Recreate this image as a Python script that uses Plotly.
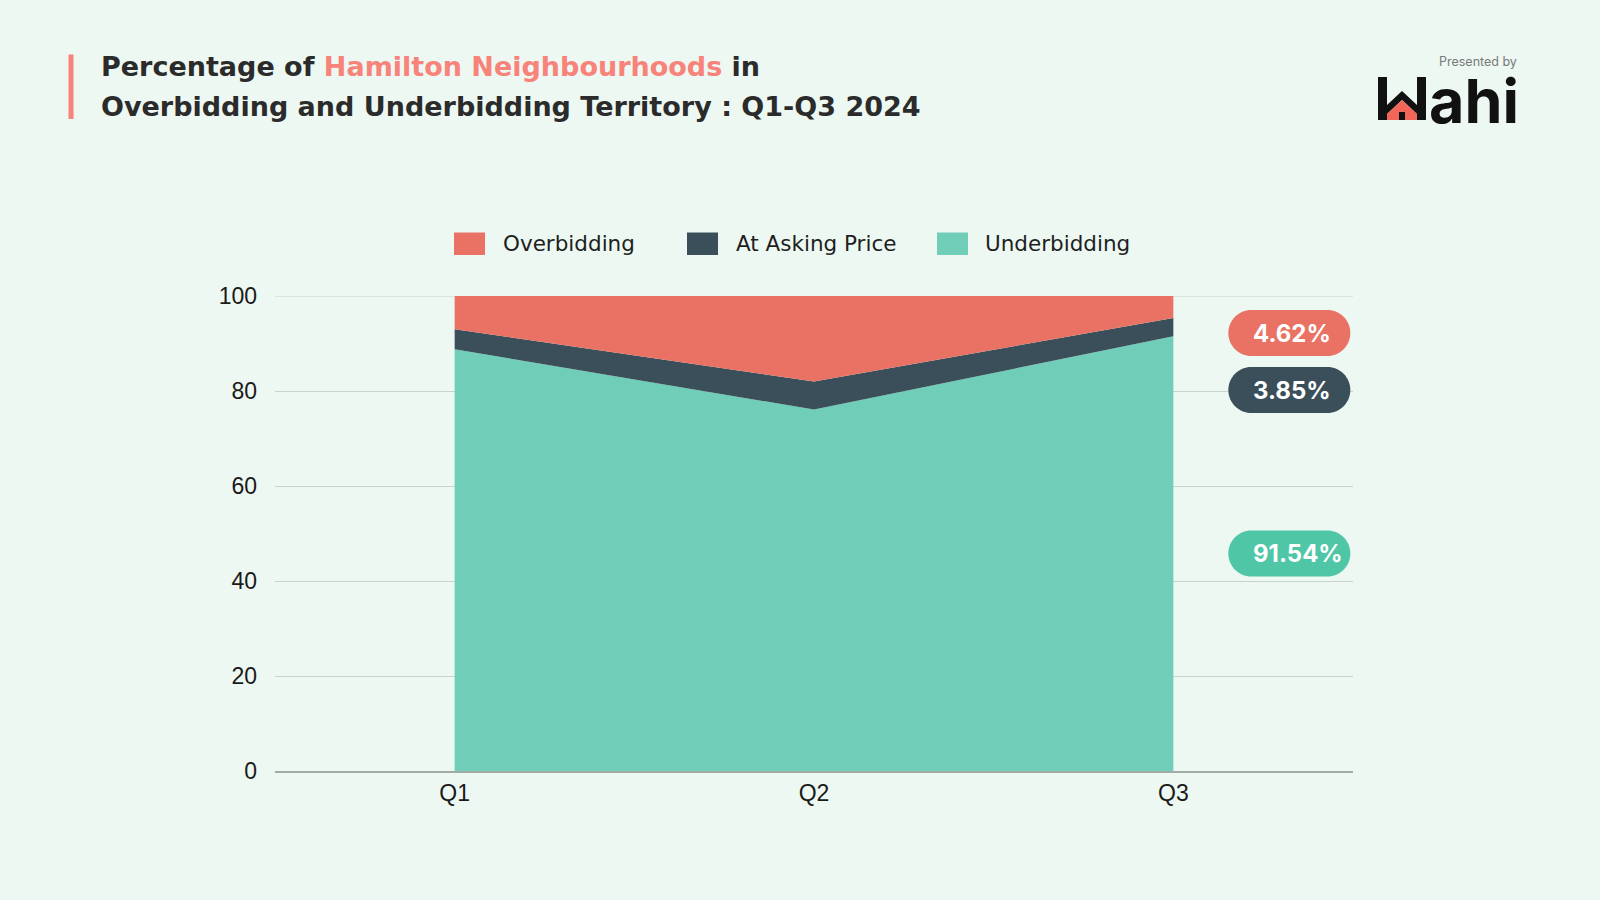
import plotly.graph_objects as go

# ---------------- data ----------------
quarters = ["Q1", "Q2", "Q3"]
underbidding = [88.8, 76.1, 91.54]
at_asking = [4.2, 5.9, 3.85]
overbidding = [7.0, 18.0, 4.62]
y_ticks = [0, 20, 40, 60, 80, 100]

# ---------------- style ----------------
BG = "#ECF8F1"
C_OVER = "#E97264"
C_ASK = "#3A4F5A"
C_UNDER = "#70CDB7"
C_UNDER_BADGE = "#4FC6A6"
C_SALMON = "#F8837A"
C_DARK = "#2B2B2B"
TITLE_FONT = "DejaVu Sans, Inter, sans-serif"

W, H = 1600, 900
ML, MR, MT, MB = 275, 247, 296, 129
PW, PH = W - ML - MR, H - MT - MB


def px(x):
    return (x - ML) / PW


def py(y):
    return (H - MB - y) / PH


fig = go.Figure()
for name, vals, col in [("Underbidding", underbidding, C_UNDER),
                        ("At Asking Price", at_asking, C_ASK),
                        ("Overbidding", overbidding, C_OVER)]:
    fig.add_trace(go.Scatter(
        x=quarters, y=vals, name=name, mode="lines",
        stackgroup="one", line=dict(width=0, color=col),
        fillcolor=col, showlegend=False,
        hovertemplate="%{x}: %{y:.2f}%<extra>" + name + "</extra>"))

shapes = []
annotations = []

# top gridline at 100 (plotly omits the one at the range edge)
shapes.append(dict(type="line", xref="x domain", yref="y", x0=0, x1=1,
                   y0=100, y1=100, line=dict(color="#C9D2CD", width=1),
                   layer="below"))

# ---- custom legend ----
legend_items = [("Overbidding", C_OVER, 454, 501),
                ("At Asking Price", C_ASK, 687, 734),
                ("Underbidding", C_UNDER, 937, 983)]
for label, col, sx, tx in legend_items:
    shapes.append(dict(type="rect", xref="paper", yref="paper",
                       x0=px(sx), x1=px(sx + 31), y0=py(232.5), y1=py(255),
                       fillcolor=col, line=dict(width=0)))
    annotations.append(dict(xref="paper", yref="paper", x=px(tx), y=py(244),
                            xanchor="left", yanchor="middle", showarrow=False,
                            text=label,
                            font=dict(family="DejaVu Sans, sans-serif",
                                      size=21.5, color="#1E1E1E")))

# ---- badges at the Q3 end ----
k = 0.5523


def pill(a, b, h):
    r = h / 2
    return (f"M{a + r},{-r} L{b - r},{-r} "
            f"C{b - r + k * r},{-r} {b},{-k * r} {b},0 "
            f"C{b},{k * r} {b - r + k * r},{r} {b - r},{r} "
            f"L{a + r},{r} "
            f"C{a + r - k * r},{r} {a},{k * r} {a},0 "
            f"C{a},{-k * r} {a + r - k * r},{-r} {a + r},{-r} Z")


badges = [(overbidding[-1], C_OVER, 92.2),
          (at_asking[-1], C_ASK, 80.2),
          (underbidding[-1], C_UNDER_BADGE, underbidding[-1] / 2)]
for val, col, yb in badges:
    shapes.append(dict(type="path", xref="x", yref="y",
                       xsizemode="pixel", ysizemode="pixel",
                       xanchor=quarters[-1], yanchor=yb,
                       path=pill(55, 177, 46),
                       fillcolor=col, line=dict(width=0), layer="above"))
    annotations.append(dict(xref="x", yref="y", x=quarters[-1], y=yb,
                            xshift=78, xanchor="left", yanchor="middle",
                            showarrow=False, text=f"<b>{val:.2f}%</b>",
                            font=dict(family="Inter, sans-serif", size=24,
                                      color="white")))

# ---- title ----
shapes.append(dict(type="rect", xref="paper", yref="paper",
                   x0=px(68.5), x1=px(73.5), y0=py(54.5), y1=py(119),
                   fillcolor=C_SALMON, line=dict(width=0)))
annotations.append(dict(
    xref="paper", yref="paper", x=px(99), y=py(67), xanchor="left",
    yanchor="middle", showarrow=False,
    text=(f"<b>Percentage of <span style='color:{C_SALMON}'>Hamilton "
          f"Neighbourhoods</span> in</b>"),
    font=dict(family=TITLE_FONT, size=27, color=C_DARK)))
annotations.append(dict(
    xref="paper", yref="paper", x=px(99), y=py(106), xanchor="left",
    yanchor="middle", showarrow=False,
    text="<b>Overbidding and Underbidding Territory : Q1-Q3 2024</b>",
    font=dict(family=TITLE_FONT, size=27, color=C_DARK)))

# ---- logo ----
annotations.append(dict(
    xref="paper", yref="paper", x=px(1519), y=py(61), xanchor="right",
    yanchor="middle", showarrow=False, text="Presented by",
    font=dict(family="Inter, sans-serif", size=12.5, color="#7A7A7A")))
annotations.append(dict(
    xref="paper", yref="paper", x=px(1427), y=py(101), xanchor="left",
    yanchor="middle", showarrow=False, text="<b>ahi</b>",
    font=dict(family="Inter, sans-serif", size=61, color="#111111")))


def ppath(points):
    return "M" + " L".join(f"{px(x)},{py(y)}" for x, y in points) + " Z"


w_black = [(1378, 77), (1387, 77), (1387, 105), (1402, 91), (1417, 105),
           (1417, 77), (1426, 77), (1426, 120), (1417, 120), (1417, 114),
           (1402, 100), (1387, 114), (1387, 120), (1378, 120)]
house = [(1387, 120), (1387, 114), (1402, 100), (1417, 114), (1417, 120)]
door = [(1399, 112), (1405, 112), (1405, 120), (1399, 120)]
shapes.append(dict(type="path", xref="paper", yref="paper",
                   path=ppath(w_black), fillcolor="#111111",
                   line=dict(width=0)))
shapes.append(dict(type="path", xref="paper", yref="paper",
                   path=ppath(house), fillcolor="#F2665A",
                   line=dict(width=0)))
shapes.append(dict(type="path", xref="paper", yref="paper",
                   path=ppath(door), fillcolor="#111111",
                   line=dict(width=0)))

fig.update_layout(
    width=W, height=H,
    margin=dict(l=ML, r=MR, t=MT, b=MB, pad=0),
    paper_bgcolor=BG, plot_bgcolor=BG,
    showlegend=False,
    shapes=shapes, annotations=annotations,
    xaxis=dict(type="category", range=[-0.5, 2.5], showgrid=False,
               zeroline=False, showline=True, linecolor="#A3ABA7",
               linewidth=1.5, ticks="", ticklabelstandoff=1,
               tickfont=dict(family="Liberation Sans, Arial", size=23,
                             color="#1A1A1A")),
    yaxis=dict(range=[0, 100], tickvals=y_ticks, showgrid=True,
               gridcolor="#C9D2CD", gridwidth=1, zeroline=False,
               showline=False, ticks="", ticklabelstandoff=17,
               tickfont=dict(family="Liberation Sans, Arial", size=23,
                             color="#1A1A1A")),
)

fig.write_html("out.html", config={"displayModeBar": False},
               post_script="document.body.style.margin='0';")
